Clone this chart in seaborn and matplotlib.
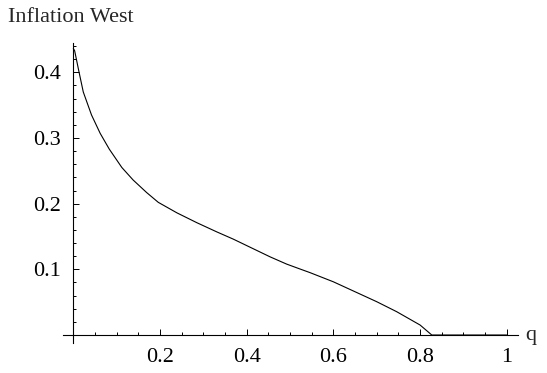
import matplotlib
matplotlib.use('Agg')
import matplotlib.pyplot as plt
import numpy as np
import pandas as pd
import seaborn as sns
from matplotlib.ticker import FixedLocator

# valores
q_vals = [0.0, 0.003, 0.013, 0.023, 0.042, 0.062, 0.083, 0.112, 0.138, 0.169,
          0.196, 0.239, 0.285, 0.331, 0.369, 0.454, 0.492, 0.523, 0.546, 0.600,
          0.700, 0.746, 0.800, 0.827, 0.9, 1.0]
inflation_west = [0.436, 0.433, 0.401, 0.370, 0.335, 0.307, 0.283, 0.255, 0.236, 0.217,
                  0.202, 0.186, 0.171, 0.157, 0.146, 0.119, 0.108, 0.1005, 0.095, 0.081,
                  0.0507, 0.0355, 0.0152, 0.0, 0.0, 0.0]
x_major = [0.2, 0.4, 0.6, 0.8, 1.0]
x_labels = ['0.2', '0.4', '0.6', '0.8', '1']
y_major = [0.1, 0.2, 0.3, 0.4]
y_labels = ['0.1', '0.2', '0.3', '0.4']

sns.set_theme(style='white')
plt.rcParams['font.family'] = ['Liberation Serif', 'DejaVu Serif']

df = pd.DataFrame({'q': q_vals, 'inflation': inflation_west})

fig = plt.figure(figsize=(5.47, 3.73), dpi=100)
ax = fig.add_axes([0.115, 0.0807, 0.8313, 0.803])

sns.lineplot(data=df, x='q', y='inflation', ax=ax, color='black', linewidth=0.8,
             estimator=None, sort=False)

ax.set_xlim(-0.024, 1.025)
ax.set_ylim(-0.012, 0.444)

# ejes cruzando en el origen, estilo Mathematica
for side in ['top', 'right']:
    ax.spines[side].set_visible(False)
for side in ['left', 'bottom']:
    ax.spines[side].set_position(('data', 0))
    ax.spines[side].set_linewidth(0.8)
    ax.spines[side].set_color('black')

ax.xaxis.set_major_locator(FixedLocator(x_major))
ax.set_xticklabels(x_labels)
ax.yaxis.set_major_locator(FixedLocator(y_major))
ax.set_yticklabels(y_labels)

x_minor = [v for v in np.arange(0.05, 1.01, 0.05) if all(abs(v - m) > 1e-6 for m in x_major)]
y_minor = [v for v in np.arange(0.02, 0.445, 0.02) if all(abs(v - m) > 1e-6 for m in y_major)]
ax.xaxis.set_minor_locator(FixedLocator(x_minor))
ax.yaxis.set_minor_locator(FixedLocator(y_minor))

ax.tick_params(which='both', direction='in', colors='black', width=0.7,
               labelsize=16, bottom=True, left=True)
ax.tick_params(which='major', length=4)
ax.tick_params(which='minor', length=2.5)
ax.tick_params(axis='x', which='major', pad=9)
ax.tick_params(axis='y', which='major', pad=9)

ax.set_xlabel('')
ax.set_ylabel('')
fig.text(8 / 547, 1 - 22 / 373, 'Inflation West', fontsize=16, ha='left', va='baseline')
fig.text(525 / 547, 1 - 340 / 373, 'q', fontsize=16, ha='left', va='baseline')

fig.savefig('out.png', dpi=100)
